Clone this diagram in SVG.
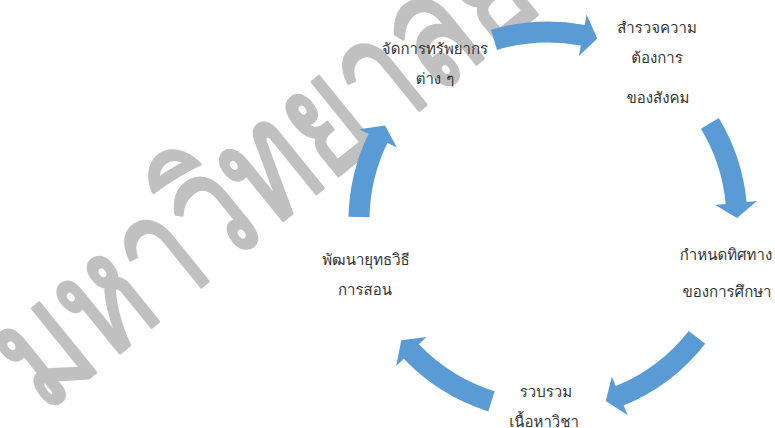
<svg xmlns="http://www.w3.org/2000/svg" width="775" height="428" viewBox="0 0 775 428">
<style>
.lbl{font-family:Tahoma,Loma,Garuda,"Noto Sans Thai Looped","Noto Sans Thai","Noto Sans",sans-serif;font-size:15px;fill:#333;text-anchor:middle}
.wm{font-family:Tahoma,Loma,Garuda,"Noto Sans Thai Looped","Noto Sans Thai","Noto Sans",sans-serif;font-size:160px;font-weight:normal;fill:#c0c0c0;stroke:#c0c0c0;stroke-width:3.5;stroke-linejoin:round}
.arr{fill:#5b9bd5}
</style>
<rect width="775" height="428" fill="#fff"/>
<g id="watermark">
<text class="wm" transform="translate(44,414) rotate(-39) scale(0.74,1)">มหาวิทยาลัย</text>
</g>
<g id="connectors">
<path class="arr" d="M491.0,29.8 A199.5,199.5 0 0 1 584.7,24.9 L586.6,14.6 L597.2,38.5 L578.9,55.9 L580.8,45.5 A178.5,178.5 0 0 0 497.0,49.9 Z"/>
<path class="arr" d="M718.8,118.0 A199.5,199.5 0 0 1 746.6,201.9 L757.0,200.9 L737.0,218.0 L715.2,204.9 L725.7,203.9 A178.5,178.5 0 0 0 700.9,128.8 Z"/>
<path class="arr" d="M705.2,343.8 A199.5,199.5 0 0 1 623.7,405.6 L627.7,415.3 L605.8,400.9 L611.8,376.4 L615.7,386.1 A178.5,178.5 0 0 0 688.7,330.9 Z"/>
<path class="arr" d="M488.3,411.4 A199.5,199.5 0 0 1 403.8,358.8 L396.2,366.1 L401.3,340.2 L426.5,337.1 L418.9,344.3 A178.5,178.5 0 0 0 494.6,391.3 Z"/>
<path class="arr" d="M348.5,216.8 A199.5,199.5 0 0 1 368.5,133.9 L359.1,129.3 L385.0,125.4 L396.9,147.6 L387.4,143.0 A178.5,178.5 0 0 0 369.5,217.3 Z"/>
</g>
<g id="node-resources">
<text class="lbl" x="435" y="54">จัดการทรัพยากร</text>
<text class="lbl" x="435" y="84">ต่าง ๆ</text>
</g>
<g id="node-survey">
<text class="lbl" x="657" y="33">สำรวจความ</text>
<text class="lbl" x="657" y="63">ต้องการ</text>
<text class="lbl" x="658" y="103">ของสังคม</text>
</g>
<g id="node-direction">
<text class="lbl" x="726" y="260">กำหนดทิศทาง</text>
<text class="lbl" x="727" y="297">ของการศึกษา</text>
</g>
<g id="node-content">
<text class="lbl" x="546" y="397">รวบรวม</text>
<text class="lbl" x="544" y="427">เนื้อหาวิชา</text>
</g>
<g id="node-strategy">
<text class="lbl" x="366" y="265">พัฒนายุทธวิธี</text>
<text class="lbl" x="365" y="295">การสอน</text>
</g>
</svg>
